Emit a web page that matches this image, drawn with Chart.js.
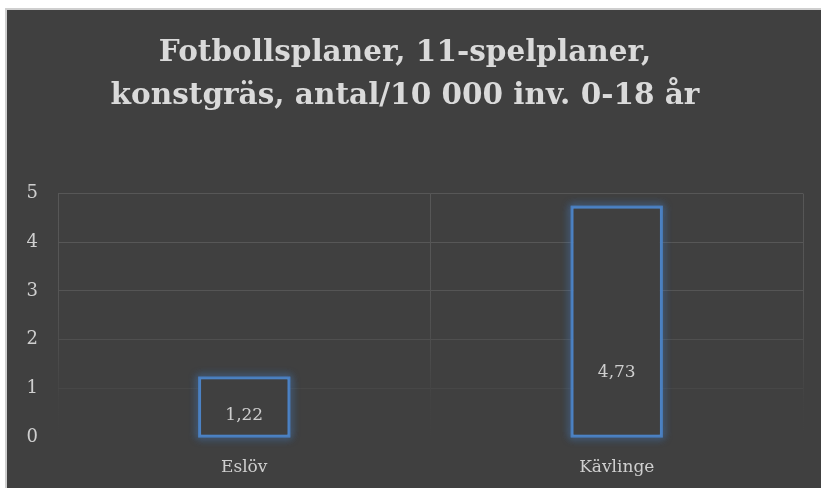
<!DOCTYPE html>
<html>
<head>
<meta charset="utf-8">
<script src="https://cdn.jsdelivr.net/npm/chart.js@4.4.0/dist/chart.umd.min.js"></script>
<style>
  html, body { margin: 0; padding: 0; background: #ffffff; overflow: hidden; }
  #frame {
    position: absolute; left: 5px; top: 8px; width: 816px; height: 480px;
    border-left: 2px solid #cfcfcf; border-top: 2px solid #cfcfcf;
    background: #404040;
  }
  #wrap { position: absolute; left: 0; top: 0; width: 814px; height: 478px; }
</style>
</head>
<body>
<div id="frame"><div id="wrap"><canvas id="chart"></canvas></div></div>
<script>
var titleLines = ["Fotbollsplaner, 11-spelplaner,", "konstgräs, antal/10 000 inv. 0-18 år"];
var categories = ["Eslöv", "Kävlinge"];
var values = [1.22, 4.73];
var yTicks = [0, 1, 2, 3, 4, 5];

var serif = "'DejaVu Serif', serif";
var textColor = "#cfcfcf";
var barBlue = "#4c82c4";

// value labels, drawn inside the bars with a comma as decimal mark
var valueLabels = {
    id: "valueLabels",
    afterDatasetsDraw(chart, args, opts) {
        const ctx = chart.ctx
        const meta = chart.getDatasetMeta(0)
        const y = chart.scales.y
        ctx.save()
        ctx.font = "17px " + serif
        ctx.fillStyle = textColor
        ctx.textAlign = "center"
        ctx.textBaseline = "middle"
        meta.data.forEach((bar, i) => {
            ctx.fillText(values[i].toFixed(2).replace(".", ","), bar.x, y.getPixelForValue(opts.at[i]))
        })
        ctx.restore()
    }
}

// soft blue glow round the bars, painted before the bars themselves
var glow = {
    id: "glow",
    beforeDatasetsDraw(chart) {
        const ctx = chart.ctx
        const meta = chart.getDatasetMeta(0)
        ctx.save()
        ctx.strokeStyle = "rgba(76,130,196,0.7)"
        ctx.lineWidth = 2
        ctx.shadowColor = "rgba(70,135,215,1)"
        ctx.shadowBlur = 8
        meta.data.forEach(bar => {
            const w = bar.width
            ctx.strokeRect(bar.x - w / 2, bar.y, w, bar.base - bar.y)
            ctx.strokeRect(bar.x - w / 2, bar.y, w, bar.base - bar.y)
        })
        ctx.restore()
    }
}

function vGrid(ctx) {
    const area = ctx.chart.chartArea
    if (!area) return "#555555"
    const g = ctx.chart.ctx.createLinearGradient(0, area.top, 0, area.bottom)
    g.addColorStop(0, "#575757")
    g.addColorStop(0.4, "#555555")
    g.addColorStop(0.65, "#4c4c4c")
    g.addColorStop(0.85, "#424242")
    g.addColorStop(1, "#404040")
    return g
}

var hGridColors = { 5: "#575757", 4: "#575757", 3: "#555555", 2: "#4f4f4f", 1: "#474747", 0: "rgba(0,0,0,0)" }

new Chart(document.getElementById("chart"), {
    type: "bar",
    data: {
        labels: categories,
        datasets: [{
            data: values,
            backgroundColor: "#404040",
            borderColor: barBlue,
            borderWidth: 2,
            borderSkipped: false,
            barPercentage: 0.242,
            categoryPercentage: 1
        }]
    },
    options: {
        responsive: true,
        maintainAspectRatio: false,
        animation: false,
        layout: { padding: { left: 0, right: 18, top: 0, bottom: 0 } },
        plugins: {
            legend: { display: false },
            tooltip: { enabled: false },
            title: {
                display: true,
                text: titleLines,
                color: "#dadada",
                font: { family: serif, size: 29.5, weight: "bold", lineHeight: 1.45 },
                padding: { top: 22, bottom: 76 }
            },
            valueLabels: { at: [0.45, 1.32] }
        },
        scales: {
            x: {
                grid: { color: vGrid, drawTicks: false, offset: true },
                border: { display: false },
                ticks: { color: textColor, font: { family: serif, size: 17 }, padding: 20 },
                afterFit(scale) { scale.height = 51 }
            },
            y: {
                min: 0,
                max: 5,
                afterBuildTicks(scale) { scale.ticks = yTicks.map(v => ({ value: v })) },
                grid: { color: c => hGridColors[c.tick.value], drawTicks: false },
                border: { display: false },
                ticks: { color: textColor, font: { family: serif, size: 18 }, padding: 20 },
                afterFit(scale) { scale.width = 51 }
            }
        }
    },
    plugins: [glow, valueLabels]
})
</script>
</body>
</html>
